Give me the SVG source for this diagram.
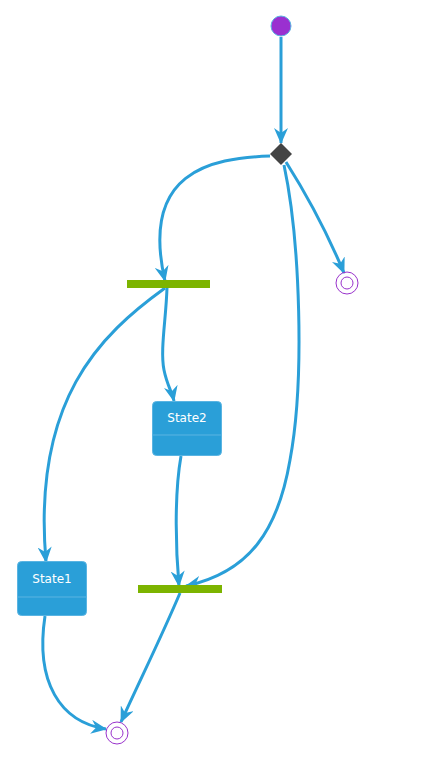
<svg xmlns="http://www.w3.org/2000/svg" width="432" height="763" viewBox="0 0 432 763">
<style>
.edge{fill:none;stroke:#2a9fd8;stroke-width:3;marker-end:url(#arr)}
.state{fill:#2a9fd8;stroke:#5ab4e2;stroke-width:1}
.div{stroke:#5ab4e2;stroke-width:1}
.lbl{font-family:"DejaVu Sans",Verdana,sans-serif;font-size:12px;fill:#ffffff;text-anchor:middle}
.bar{fill:#7cb400;stroke:none}
.end{fill:none;stroke:#9932cc;stroke-width:1}
</style>
<defs>
<marker id="arr" viewBox="0 0 16 14" refX="15" refY="7" markerWidth="16" markerHeight="14" markerUnits="userSpaceOnUse" orient="auto">
<path d="M0,0 L16,7 L0,14 L5,7 Z" fill="#2a9fd8"/>
</marker>
</defs>
<rect width="432" height="763" fill="#ffffff"/>
<g id="connectors">
<path class="edge" d="M281,37 L281,143"/>
<path class="edge" d="M270,156 C210,158 140,172 165,281"/>
<path class="edge" d="M286,162 C305,192 326,230 344,273"/>
<path class="edge" d="M284,165 C300,240 305,380 290,460 C278,530 250,572 186,586"/>
<path class="edge" d="M167,288 C166,320 160,350 164,370 C167,385 172,392 174,401"/>
<path class="edge" d="M165,288 C100,335 32,400 46,562"/>
<path class="edge" d="M181,456 C175,490 175,540 179,586"/>
<path class="edge" d="M45,616 C35,682 60,722 106,729"/>
<path class="edge" d="M180,593 C160,640 140,680 121,722"/>
</g>
<g id="start"><circle cx="281" cy="26" r="10" fill="#9a30d0" stroke="#5ab4e2" stroke-width="1"/></g>
<g id="choice"><polygon points="281,143 292,154 281,165 270,154" fill="#444444"/></g>
<g id="fork1"><rect class="bar" x="127" y="280" width="83" height="8"/></g>
<g id="fork2"><rect class="bar" x="138" y="585" width="84" height="8"/></g>
<g id="end1"><circle class="end" cx="347" cy="283" r="11"/><circle class="end" cx="347" cy="283" r="6"/></g>
<g id="end2"><circle class="end" cx="117" cy="733" r="11"/><circle class="end" cx="117" cy="733" r="6"/></g>
<g id="State2"><rect class="state" x="152.5" y="401.5" width="69" height="54" rx="4"/><line class="div" x1="152.5" y1="435" x2="221.5" y2="435"/><text class="lbl" x="187" y="422">State2</text></g>
<g id="State1"><rect class="state" x="17.5" y="561.5" width="69" height="54" rx="4"/><line class="div" x1="17.5" y1="597" x2="86.5" y2="597"/><text class="lbl" x="52" y="583">State1</text></g>
</svg>
